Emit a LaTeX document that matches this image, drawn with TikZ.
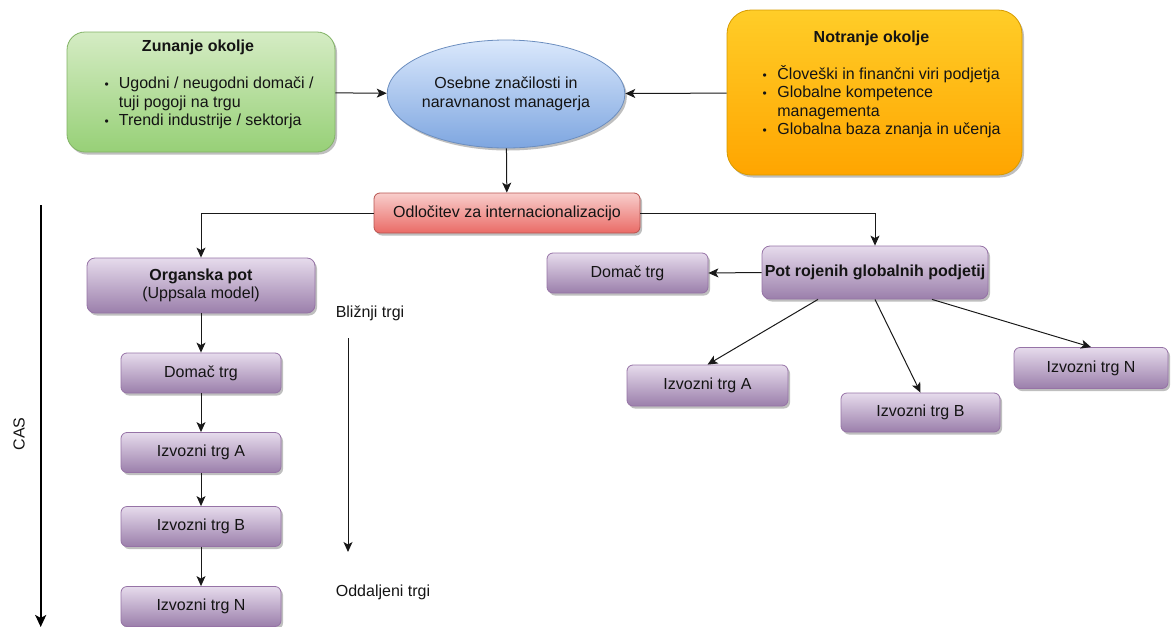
\documentclass[tikz,border=0pt]{standalone}
\usepackage{fontspec}
\setmainfont{Liberation Sans}
\usetikzlibrary{arrows.meta,shapes.geometric,shadows,calc}

\definecolor{grnT}{HTML}{D5ECC4}
\definecolor{grnB}{HTML}{97D077}
\definecolor{grnD}{HTML}{82B366}
\definecolor{orgT}{HTML}{FFCD28}
\definecolor{orgB}{HTML}{FFA500}
\definecolor{orgD}{HTML}{D79B00}
\definecolor{bluT}{HTML}{DAE8FC}
\definecolor{bluB}{HTML}{7EA6E0}
\definecolor{bluD}{HTML}{6C8EBF}
\definecolor{redT}{HTML}{F8CECC}
\definecolor{redB}{HTML}{EA6B66}
\definecolor{redD}{HTML}{B85450}
\definecolor{purT}{HTML}{E6DBEC}
\definecolor{purB}{HTML}{9B7FAB}
\definecolor{purD}{HTML}{9673A6}

\newcommand{\bul}{{\fontsize{12}{12}\selectfont\textbullet}}

\begin{document}
\begin{tikzpicture}[x=1pt,y=-1pt,
  every node/.style={font=\fontsize{16}{18.5}\selectfont, text=black!92},
  sbox/.style={rectangle, rounded corners=6pt, line width=0.8pt, inner sep=0pt,
    drop shadow={shadow xshift=2pt, shadow yshift=-2.5pt, opacity=0.25, fill=black}},
  purplebox/.style={sbox, draw=purD, top color=purT, bottom color=purB},
  mkt/.style={purplebox, minimum width=160pt, minimum height=40pt},
  link/.style={-{Stealth[length=10pt,width=9pt,inset=2.5pt]}, line width=1pt, draw=black!90},
  timeline/.style={-{Stealth[length=12pt,width=11pt,inset=3pt]}, line width=2pt, draw=black}]

\useasboundingbox (0,0) rectangle (1171,627);

% environment boxes
\node (zun) [sbox, rounded corners=18pt, draw=grnD, top color=grnT, bottom color=grnB,
  minimum width=268pt, minimum height=120pt] at (201,92) {};
\node (zuntitle) [font=\fontsize{16}{18.5}\selectfont\bfseries] at (198,47) {Zunanje okolje};
\node (zunlist) [anchor=west, inner sep=0pt] at (104.5,103.3) {%
  \begin{tabular}{@{}l@{\hspace{10pt}}l@{}}
  \bul & Ugodni / neugodni domači / \\
       & tuji pogoji na trgu \\
  \bul & Trendi industrije / sektorja
  \end{tabular}};

\node (not) [sbox, rounded corners=24pt, draw=orgD, top color=orgT, bottom color=orgB,
  minimum width=295pt, minimum height=165pt] at (874.5,92.5) {};
\node (nottitle) [font=\fontsize{16}{18.5}\selectfont\bfseries] at (871.5,38) {Notranje okolje};
\node (notlist) [anchor=west, inner sep=0pt] at (762.5,102.8) {%
  \begin{tabular}{@{}l@{\hspace{10.5pt}}l@{}}
  \bul & Človeški in finančni viri podjetja \\
  \bul & Globalne kompetence \\
       & managementa \\
  \bul & Globalna baza znanja in učenja
  \end{tabular}};

\node (osebne) [ellipse, line width=0.8pt, draw=bluD, top color=bluT, bottom color=bluB,
  minimum width=184pt, minimum height=108pt, inner sep=0pt, align=center,
  drop shadow={shadow xshift=2pt, shadow yshift=-2.5pt, opacity=0.25, fill=black}]
  at (506,94) {Osebne značilosti in\\naravnanost managerja};

% decision
\node (odl) [sbox, draw=redD, top color=redT, bottom color=redB,
  minimum width=266pt, minimum height=40pt] at (507,213) {Odločitev za internacionalizacijo};

% organic path
\node (org) [purplebox, rounded corners=8pt, minimum width=228pt, minimum height=55pt, align=center]
  at (201,285.5) {\textbf{Organska pot}\\(Uppsala model)};
\node (dom1) [mkt] at (201,373) {Domač trg};
\node (ia) [mkt] at (201,452.5) {Izvozni trg A};
\node (ib) [mkt] at (201,526.5) {Izvozni trg B};
\node (in) [mkt] at (201,606.5) {Izvozni trg N};

% born-global path
\node (pot) [purplebox, rounded corners=8pt, minimum width=226pt, minimum height=53pt,
  font=\fontsize{16}{18.5}\selectfont\bfseries] at (875,272.5) {Pot rojenih globalnih podjetij};
\node (dom2) [mkt, minimum width=161pt] at (627.5,273) {Domač trg};
\node (ea) [mkt, minimum width=161pt, minimum height=41pt] at (707.5,385.5) {Izvozni trg A};
\node (eb) [mkt, minimum width=159pt, minimum height=39pt] at (920.5,412.5) {Izvozni trg B};
\node (en) [mkt, minimum width=154pt, minimum height=41pt] at (1091,368) {Izvozni trg N};

% side labels
\node (blizu) at (370,313) {Bližnji trgi};
\node (dalec) at (383,592) {Oddaljeni trgi};
\node (cas) [rotate=90] at (19,434) {CAS};

\coordinate (distTop) at (348,338);
\coordinate (distBot) at (348,552);
\coordinate (timeTop) at (40.7,205);
\coordinate (timeBot) at (40.7,627);

% connectors
\draw[link] (zun) -- (osebne);
\draw[link] (not) -- (osebne);
\draw[link] (osebne) -- (odl);
\draw[link] (odl.west) -| (org.north);
\draw[link] (odl.east) -| (pot.north);
\draw[link] (org) -- (dom1);
\draw[link] (dom1) -- (ia);
\draw[link] (ia) -- (ib);
\draw[link] (ib) -- (in);
\draw[link] (pot.west) -- (dom2.east);
\draw[link] ($(pot.south)+(-57,0)$) -- (ea.north);
\draw[link] (pot.south) -- (eb.north);
\draw[link] ($(pot.south)+(57,0)$) -- (en.north);
\draw[link] (distTop) -- (distBot);
\draw[timeline] (timeTop) -- (timeBot);

\end{tikzpicture}
\end{document}
